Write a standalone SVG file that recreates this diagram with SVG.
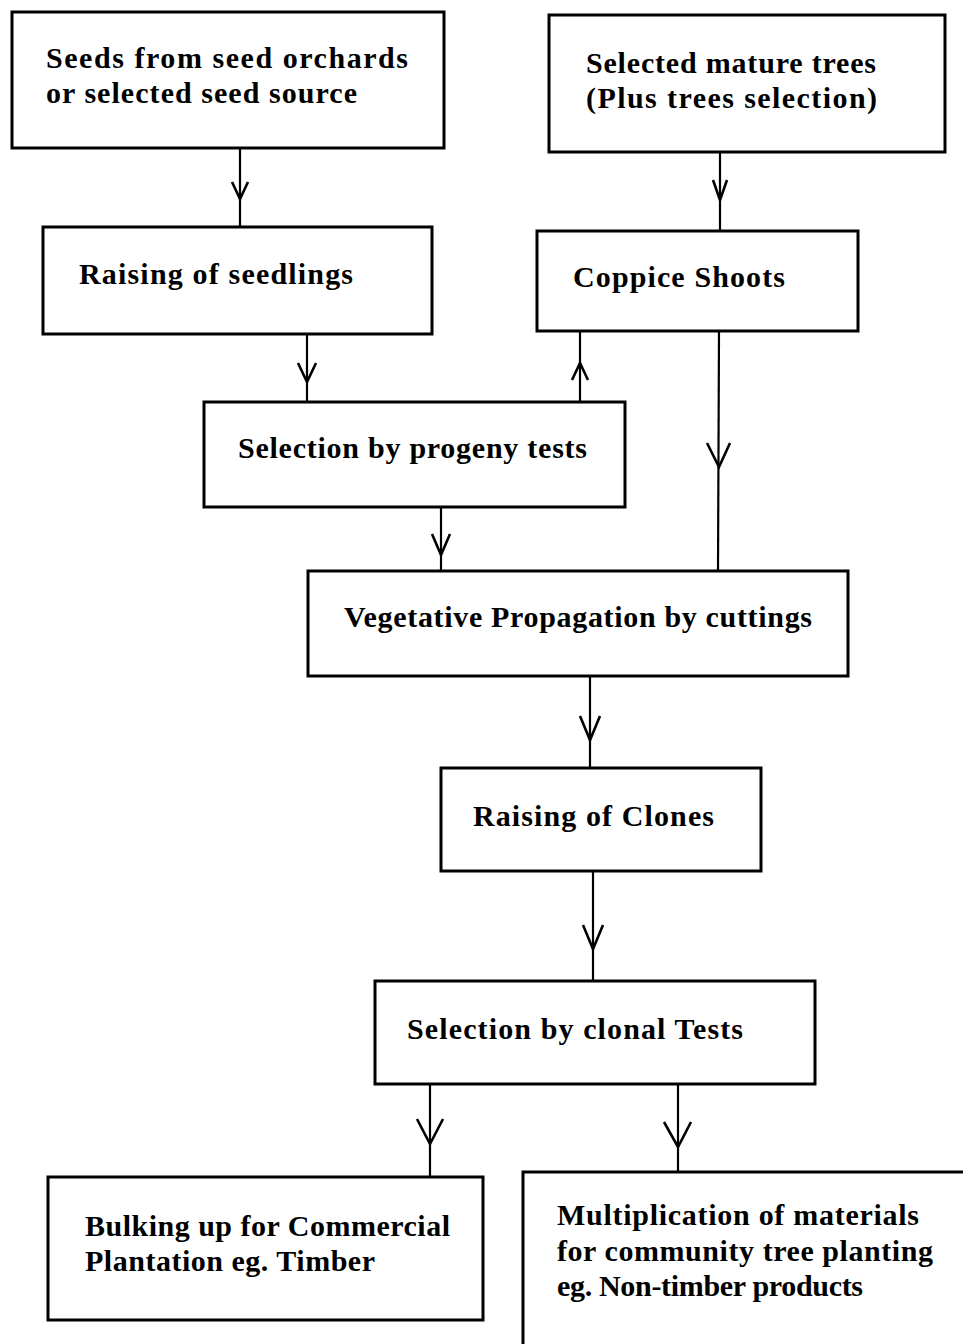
<svg xmlns="http://www.w3.org/2000/svg" width="963" height="1344" viewBox="0 0 963 1344">
<style>
.box{fill:#fff;stroke:#000;stroke-width:3}
.t{font-family:"Liberation Serif","Times New Roman",serif;font-size:30px;font-weight:bold;fill:#000}
.ln{fill:none;stroke:#000;stroke-width:2.2}
.hd{fill:none;stroke:#000;stroke-width:2.6;stroke-linejoin:miter}
</style>
<rect width="963" height="1344" fill="#fff"/>
<g id="connectors">
<line class="ln" x1="240" y1="148" x2="240" y2="227"/>
<polyline class="hd" points="232,182 240,199 248,182"/>
<line class="ln" x1="720" y1="152" x2="720" y2="231"/>
<polyline class="hd" points="713,180 720,200 727,180"/>
<line class="ln" x1="307" y1="334" x2="307" y2="402"/>
<polyline class="hd" points="298,363 307,382 316,363"/>
<line class="ln" x1="580" y1="402" x2="580" y2="331"/>
<polyline class="hd" points="572,380 580,363 588,380"/>
<line class="ln" x1="719" y1="331" x2="718" y2="571"/>
<polyline class="hd" points="707,443 719,467 730,443"/>
<line class="ln" x1="441" y1="507" x2="441" y2="571"/>
<polyline class="hd" points="432,534 441,555 450,534"/>
<line class="ln" x1="590" y1="676" x2="590" y2="768"/>
<polyline class="hd" points="580,716 590,740 600,716"/>
<line class="ln" x1="593" y1="871" x2="593" y2="981"/>
<polyline class="hd" points="583,925 593,949 603,925"/>
<line class="ln" x1="430" y1="1084" x2="430" y2="1177"/>
<polyline class="hd" points="417,1119 430,1144 443,1119"/>
<line class="ln" x1="678" y1="1084" x2="678" y2="1172"/>
<polyline class="hd" points="664,1122 678,1147 691,1122"/>
</g>
<g id="n1">
<rect class="box" x="12" y="12" width="432" height="136"/>
<text class="t" x="46" y="68" textLength="362" lengthAdjust="spacing">Seeds from seed orchards</text>
<text class="t" x="46" y="103" textLength="311" lengthAdjust="spacing">or selected seed source</text>
</g>
<g id="n2">
<rect class="box" x="549" y="15" width="396" height="137"/>
<text class="t" x="586" y="73" textLength="290" lengthAdjust="spacing">Selected mature trees</text>
<text class="t" x="586" y="108" textLength="291" lengthAdjust="spacing">(Plus trees selection)</text>
</g>
<g id="n3">
<rect class="box" x="43" y="227" width="389" height="107"/>
<text class="t" x="79" y="284" textLength="274" lengthAdjust="spacing">Raising of seedlings</text>
</g>
<g id="n4">
<rect class="box" x="537" y="231" width="321" height="100"/>
<text class="t" x="573" y="287" textLength="212" lengthAdjust="spacing">Coppice Shoots</text>
</g>
<g id="n5">
<rect class="box" x="204" y="402" width="421" height="105"/>
<text class="t" x="238" y="458" textLength="349" lengthAdjust="spacing">Selection by progeny tests</text>
</g>
<g id="n6">
<rect class="box" x="308" y="571" width="540" height="105"/>
<text class="t" x="344" y="627" textLength="468" lengthAdjust="spacing">Vegetative Propagation by cuttings</text>
</g>
<g id="n7">
<rect class="box" x="441" y="768" width="320" height="103"/>
<text class="t" x="473" y="826" textLength="241" lengthAdjust="spacing">Raising of Clones</text>
</g>
<g id="n8">
<rect class="box" x="375" y="981" width="440" height="103"/>
<text class="t" x="407" y="1039" textLength="336" lengthAdjust="spacing">Selection by clonal Tests</text>
</g>
<g id="n9">
<rect class="box" x="48" y="1177" width="435" height="143"/>
<text class="t" x="85" y="1236" textLength="365" lengthAdjust="spacing">Bulking up for Commercial</text>
<text class="t" x="85" y="1271" textLength="290" lengthAdjust="spacing">Plantation eg. Timber</text>
</g>
<g id="n10">
<rect class="box" x="523" y="1172" width="470" height="200"/>
<text class="t" x="557" y="1225" textLength="362" lengthAdjust="spacing">Multiplication of materials</text>
<text class="t" x="557" y="1261" textLength="376" lengthAdjust="spacing">for community tree planting</text>
<text class="t" x="557" y="1296" textLength="306" lengthAdjust="spacing">eg. Non-timber products</text>
</g>
</svg>
